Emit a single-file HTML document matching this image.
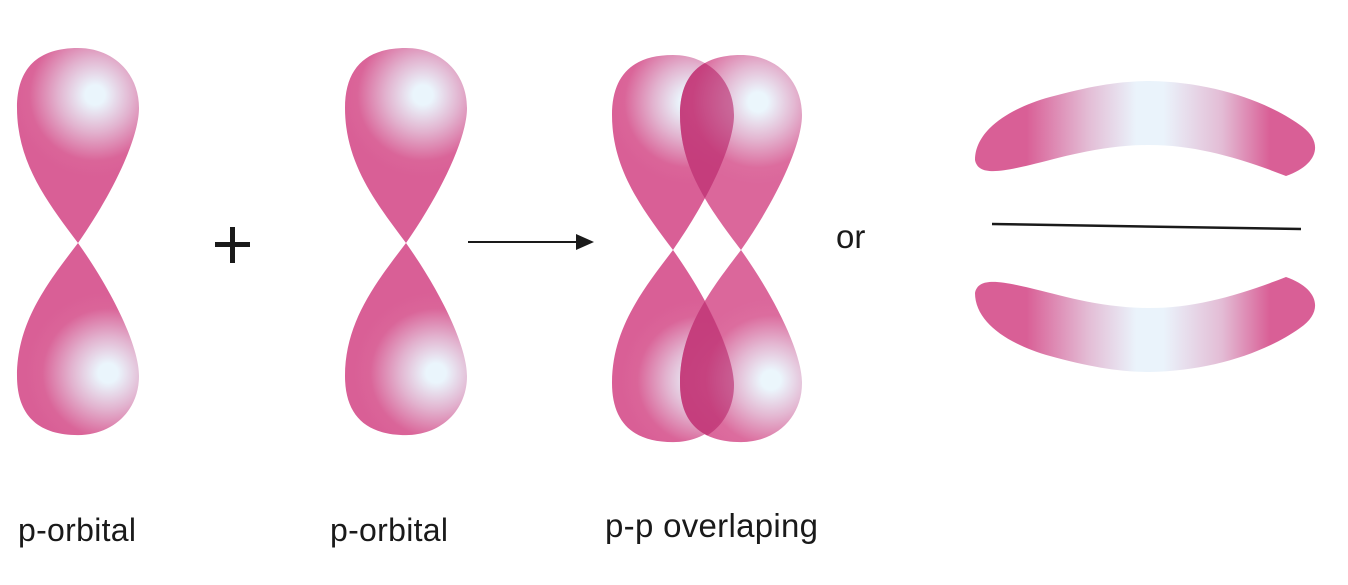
<!DOCTYPE html>
<html><head><meta charset="utf-8"><style>
html,body{margin:0;padding:0;background:#fff;}
svg{display:block}
text{font-family:"Liberation Sans","DejaVu Sans",sans-serif;fill:#1a1a1a}
</style></head><body>
<svg width="1348" height="585" viewBox="0 0 1348 585" xmlns="http://www.w3.org/2000/svg">
<defs>
<path id="lobe" d="M0,0 C-30,-40 -61,-80 -61,-135 C-61,-175 -40,-195 0,-195 C35,-195 61,-170 61,-135 C61,-105 35,-50 0,0 Z"/>
<radialGradient id="gT" gradientUnits="userSpaceOnUse" cx="17" cy="-148" r="82">
<stop offset="0" stop-color="#eaf5fc"/><stop offset="0.12" stop-color="#eaf5fc"/>
<stop offset="0.45" stop-color="#e2b3cf"/><stop offset="0.8" stop-color="#da6599"/><stop offset="1" stop-color="#d95f96"/>
</radialGradient>
<radialGradient id="gB" gradientUnits="userSpaceOnUse" cx="30" cy="-132" r="82">
<stop offset="0" stop-color="#eaf5fc"/><stop offset="0.12" stop-color="#eaf5fc"/>
<stop offset="0.45" stop-color="#e2b3cf"/><stop offset="0.8" stop-color="#da6599"/><stop offset="1" stop-color="#d95f96"/>
</radialGradient>
<linearGradient id="band" gradientUnits="userSpaceOnUse" x1="975" y1="0" x2="1318" y2="0">
<stop offset="0" stop-color="#d95f96"/><stop offset="0.15" stop-color="#d95f96"/>
<stop offset="0.33" stop-color="#e3bcd5"/>
<stop offset="0.47" stop-color="#eaf3fb"/><stop offset="0.55" stop-color="#eaf3fb"/>
<stop offset="0.72" stop-color="#e3bcd5"/>
<stop offset="0.86" stop-color="#d95f96"/><stop offset="1" stop-color="#d95f96"/>
</linearGradient>
<path id="bandp" d="M975,160 C975,130 1010,108 1050,97 C1090,86 1120,81 1150,81 C1210,82 1265,100 1300,125 C1325,142 1318,165 1286,176 C1240,158 1195,145 1150,145 C1100,145 1060,158 1030,165 C1000,172 978,176 975,160 Z"/>
<clipPath id="cT"><use href="#lobe" transform="translate(673,250)"/></clipPath>
<clipPath id="cB"><use href="#lobe" transform="translate(673,250) scale(1,-1)"/></clipPath>
</defs>

<use href="#lobe" transform="translate(78,243)" fill="url(#gT)"/>
<use href="#lobe" transform="translate(78,243) scale(1,-0.985)" fill="url(#gB)"/>
<use href="#lobe" transform="translate(406,243)" fill="url(#gT)"/>
<use href="#lobe" transform="translate(406,243) scale(1,-0.985)" fill="url(#gB)"/>

<use href="#lobe" transform="translate(673,250)" fill="url(#gT)"/>
<use href="#lobe" transform="translate(673,250) scale(1,-0.985)" fill="url(#gB)"/>
<use href="#lobe" transform="translate(741,250)" fill="url(#gT)" opacity="0.95"/>
<use href="#lobe" transform="translate(741,250) scale(1,-0.985)" fill="url(#gB)" opacity="0.95"/>
<g clip-path="url(#cT)"><use href="#lobe" transform="translate(741,250)" fill="#b8266a" opacity="0.6"/></g>
<g clip-path="url(#cB)"><use href="#lobe" transform="translate(741,250) scale(1,-0.985)" fill="#b8266a" opacity="0.6"/></g>

<rect x="215" y="242" width="35" height="5" fill="#1a1a1a"/>
<rect x="230" y="227" width="5" height="36" fill="#1a1a1a"/>
<line x1="468" y1="242" x2="580" y2="242" stroke="#1a1a1a" stroke-width="2"/>
<polygon points="594,242 576,234 576,250" fill="#1a1a1a"/>
<text x="836" y="248" font-size="33">or</text>

<use href="#bandp" fill="url(#band)"/>
<line x1="992" y1="224" x2="1301" y2="229" stroke="#1a1a1a" stroke-width="2.5"/>
<use href="#bandp" transform="translate(0,453) scale(1,-1)" fill="url(#band)"/>

<text x="18" y="541" font-size="32" letter-spacing="0.3">p-orbital</text>
<text x="330" y="541" font-size="32" letter-spacing="0.3">p-orbital</text>
<text x="605" y="537" font-size="33" letter-spacing="0.3">p-p overlaping</text>
</svg>
</body></html>
